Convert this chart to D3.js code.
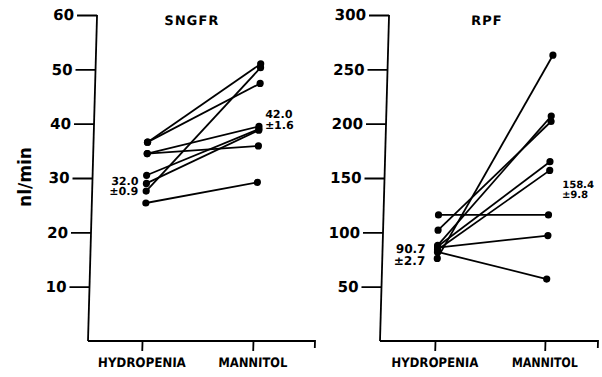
<!DOCTYPE html>
<html>
<head>
<meta charset="utf-8">
<script src="https://cdn.jsdelivr.net/npm/d3@7"></script>
<style>
  body { margin: 0; background: #fff; }
  svg { display: block; }
  text { font-family: "DejaVu Sans", "Liberation Sans", sans-serif; font-weight: bold; fill: #000; }
</style>
</head>
<body>
<svg width="602" height="377"></svg>
<script>
// categories
var groups = ["HYDROPENIA", "MANNITOL"];

// SNGFR (nl/min), one pair per nephron
var sngfrHydro = [36.6, 36.6, 34.5, 34.5, 30.5, 29.0, 27.6, 25.4];
var sngfrMann  = [51.0, 47.4, 35.9, 39.5, 39.0, 38.8, 50.3, 29.2];
var sngfrTicks = [10, 20, 30, 40, 50, 60];

// RPF
var rpfHydro = [116, 102, 88, 76, 87, 84, 86, 82];
var rpfMann  = [116, 202, 207, 263, 165, 157, 97, 57];
var rpfTicks = [50, 100, 150, 200, 250, 300];

// mean ± SE labels
var sngfrMeans = [["32.0", "\u00b10.9"], ["42.0", "\u00b11.6"]];
var rpfMeans   = [["90.7", "\u00b12.7"], ["158.4", "\u00b19.8"]];

var svg = d3.select("svg");
var base = 341;

// the scan is slightly sheared: axes lean to the right going up
var root = svg.append("g")
    .attr("transform", "translate(0," + base + ") skewX(-1.59) translate(0," + (-base) + ")");

function panel(opt) {
  var g = root.append("g");

  var y = d3.scaleLinear().domain([0, opt.max]).range([base, 15]);
  var x = d3.scaleLinear().domain([-opt.padL, 1 + opt.padR]).range([opt.x0, opt.x1]);

  // y axis
  var ya = g.append("g")
      .attr("transform", "translate(" + opt.x0 + ",0)")
      .call(d3.axisLeft(y).tickValues(opt.ticks).tickSize(20).tickPadding(3).tickSizeOuter(0));
  ya.select(".domain").attr("d", "M0," + base + "V15");
  ya.selectAll("line, path").attr("stroke", "#000").attr("stroke-width", 1.8);
  ya.selectAll("text").attr("font-size", 15).attr("font-family", "DejaVu Sans").attr("font-weight", "bold").attr("fill", "#000");

  // x axis
  var xa = g.append("g")
      .attr("transform", "translate(0," + base + ")")
      .call(d3.axisBottom(x).tickValues([0, 1]).tickFormat(function(d) { return groups[d]; })
        .tickSize(10).tickPadding(7).tickSizeOuter(0));
  xa.select(".domain").attr("d", "M" + opt.x0 + ",0H" + opt.x1 + "V7");
  xa.selectAll("line, path").attr("stroke", "#000").attr("stroke-width", 1.8);
  xa.selectAll("text").attr("font-size", 13).attr("font-family", "DejaVu Sans").attr("font-weight", "bold").attr("fill", "#000")
      .attr("textLength", function(d) { return opt.labelW[d]; })
      .attr("lengthAdjust", "spacingAndGlyphs");

  // title
  g.append("text")
      .attr("x", opt.titleX).attr("y", 25)
      .attr("text-anchor", "middle")
      .attr("font-size", 13)
      .attr("letter-spacing", 1)
      .text(opt.title);

  // paired lines
  var pairs = opt.hydro.map(function(v, i) { return [v, opt.mann[i]]; });
  g.append("g").selectAll("line")
      .data(pairs)
      .enter().append("line")
      .attr("x1", x(0)).attr("x2", x(1))
      .attr("y1", function(d) { return y(d[0]); })
      .attr("y2", function(d) { return y(d[1]); })
      .attr("stroke", "#000")
      .attr("stroke-width", 1.8);

  var pts = [];
  pairs.forEach(function(d) { pts.push([0, d[0]]); pts.push([1, d[1]]); });
  g.append("g").selectAll("circle")
      .data(pts)
      .enter().append("circle")
      .attr("cx", function(d) { return x(d[0]); })
      .attr("cy", function(d) { return y(d[1]); })
      .attr("r", 3.6)
      .attr("fill", "#000");

  // mean labels
  opt.notes.forEach(function(n, i) {
    var t = g.append("text")
        .attr("x", n.x).attr("y", n.y)
        .attr("text-anchor", n.anchor)
        .attr("font-size", n.size);
    t.append("tspan").attr("x", n.x).text(opt.means[i][0]);
    t.append("tspan").attr("x", n.x).attr("dy", n.dy).text(opt.means[i][1]);
  });
}

panel({
  title: "SNGFR", titleX: 183, max: 60, ticks: sngfrTicks,
  x0: 88, x1: 315, padL: 0.487, padR: 0.559,
  hydro: sngfrHydro, mann: sngfrMann, means: sngfrMeans,
  labelW: [88, 69],
  notes: [
    {x: 134, y: 185, dy: 10, anchor: "end", size: 11},
    {x: 259, y: 118, dy: 11, anchor: "start", size: 11}
  ]
});

panel({
  title: "RPF", titleX: 478, max: 300, ticks: rpfTicks,
  x0: 380, x1: 598, padL: 0.5, padR: 0.482,
  hydro: rpfHydro, mann: rpfMann, means: rpfMeans,
  labelW: [87, 66],
  notes: [
    {x: 423, y: 253, dy: 12, anchor: "end", size: 12},
    {x: 558, y: 188, dy: 10, anchor: "start", size: 10}
  ]
});

// y axis title
svg.append("text")
    .attr("transform", "translate(31,177) rotate(-90)")
    .attr("text-anchor", "middle")
    .attr("font-size", 18)
    .attr("textLength", 60)
    .attr("lengthAdjust", "spacingAndGlyphs")
    .text("nl/min");
</script>
</body>
</html>
